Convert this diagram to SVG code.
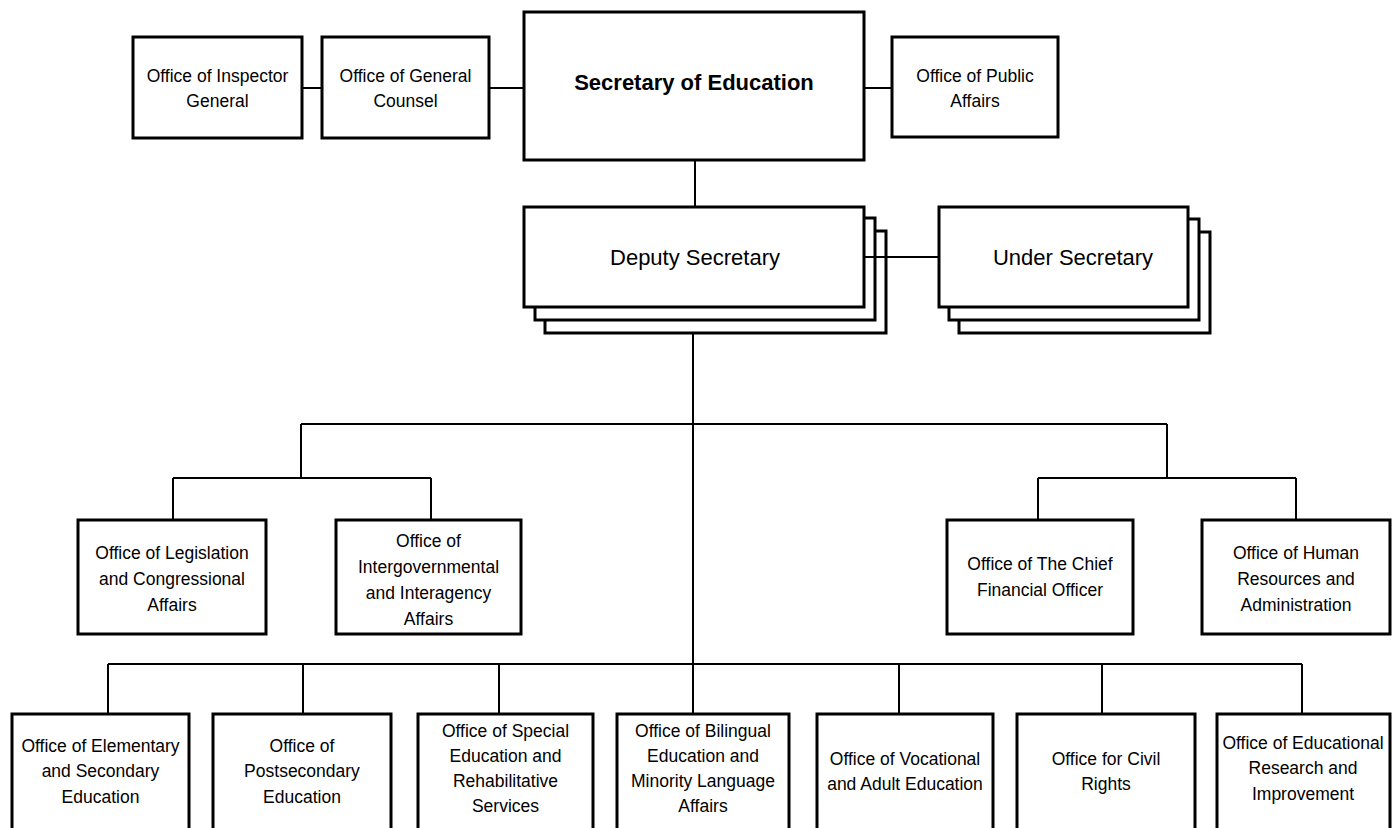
<svg xmlns="http://www.w3.org/2000/svg" width="1393" height="828" viewBox="0 0 1393 828">
<style>
.box{fill:#fff;stroke:#000;stroke-width:3}
.ln{fill:none;stroke:#000;stroke-width:2}
text{font-family:"Liberation Sans",Arial,sans-serif;font-size:17.5px;fill:#000;text-anchor:middle}
.big{font-size:22px}
.bold{font-weight:bold}
</style>
<rect width="1393" height="828" fill="#fff"/>
<g id="inspector-general"><rect class="box" x="133" y="37" width="169" height="101"/><text x="217.5" y="82">Office of Inspector</text><text x="217.5" y="107">General</text></g>
<g id="general-counsel"><rect class="box" x="322" y="37" width="167" height="101"/><text x="405.5" y="82">Office of General</text><text x="405.5" y="107">Counsel</text></g>
<g id="secretary"><rect class="box" x="524" y="12" width="340" height="148"/><text class="big bold" x="694" y="90">Secretary of Education</text></g>
<g id="public-affairs"><rect class="box" x="892" y="37" width="166" height="100"/><text x="975" y="82">Office of Public</text><text x="975" y="107">Affairs</text></g>
<g id="deputy-secretary">
<rect class="box" x="545" y="231" width="341" height="102"/>
<rect class="box" x="535" y="218" width="340" height="102"/>
<rect class="box" x="524" y="207" width="340" height="100"/>
<text class="big" x="695" y="265">Deputy Secretary</text></g>
<g id="under-secretary">
<rect class="box" x="959" y="232" width="251" height="101"/>
<rect class="box" x="949" y="219" width="250" height="101"/>
<rect class="box" x="939" y="207" width="249" height="100"/>
<text class="big" x="1073" y="265">Under Secretary</text></g>
<g id="legislation"><rect class="box" x="78" y="520" width="188" height="114"/><text x="172" y="559">Office of Legislation</text><text x="172" y="585">and Congressional</text><text x="172" y="611">Affairs</text></g>
<g id="intergovernmental"><rect class="box" x="336" y="520" width="185" height="114"/><text x="428.5" y="547">Office of</text><text x="428.5" y="573">Intergovernmental</text><text x="428.5" y="599">and Interagency</text><text x="428.5" y="625">Affairs</text></g>
<g id="cfo"><rect class="box" x="947" y="520" width="186" height="114"/><text x="1040" y="570">Office of The Chief</text><text x="1040" y="596">Financial Officer</text></g>
<g id="human-resources"><rect class="box" x="1202" y="520" width="188" height="114"/><text x="1296" y="559">Office of Human</text><text x="1296" y="585">Resources and</text><text x="1296" y="611">Administration</text></g>
<g id="elementary"><rect class="box" x="12" y="714" width="177" height="116"/><text x="100.5" y="752">Office of Elementary</text><text x="100.5" y="777">and Secondary</text><text x="100.5" y="803">Education</text></g>
<g id="postsecondary"><rect class="box" x="213" y="714" width="178" height="116"/><text x="302" y="752">Office of</text><text x="302" y="777">Postsecondary</text><text x="302" y="803">Education</text></g>
<g id="special-education"><rect class="box" x="418" y="714" width="175" height="116"/><text x="505.5" y="737">Office of Special</text><text x="505.5" y="762">Education and</text><text x="505.5" y="787">Rehabilitative</text><text x="505.5" y="812">Services</text></g>
<g id="bilingual"><rect class="box" x="617" y="714" width="172" height="116"/><text x="703" y="737">Office of Bilingual</text><text x="703" y="762">Education and</text><text x="703" y="787">Minority Language</text><text x="703" y="812">Affairs</text></g>
<g id="vocational"><rect class="box" x="817" y="714" width="176" height="116"/><text x="905" y="765">Office of Vocational</text><text x="905" y="790">and Adult Education</text></g>
<g id="civil-rights"><rect class="box" x="1017" y="714" width="178" height="116"/><text x="1106" y="765">Office for Civil</text><text x="1106" y="790">Rights</text></g>
<g id="educational-research"><rect class="box" x="1217" y="714" width="173" height="116"/><text x="1303" y="749">Office of Educational</text><text x="1303" y="774">Research and</text><text x="1303" y="800">Improvement</text></g>
<g id="connectors" class="ln">
<path d="M302 88H322M489 88H524M864 88H892"/>
<path d="M695 160V207"/>
<path d="M865 257H939"/>
<path d="M693 334V714"/>
<path d="M301 424H1167M301 424V478M173 478H431M173 478V520M431 478V520"/>
<path d="M1167 424V478M1038 478H1296M1038 478V520M1296 478V520"/>
<path d="M108 664H1302M108 664V714M303 664V714M499 664V714M899 664V714M1102 664V714M1302 664V714"/>
</g>
</svg>
